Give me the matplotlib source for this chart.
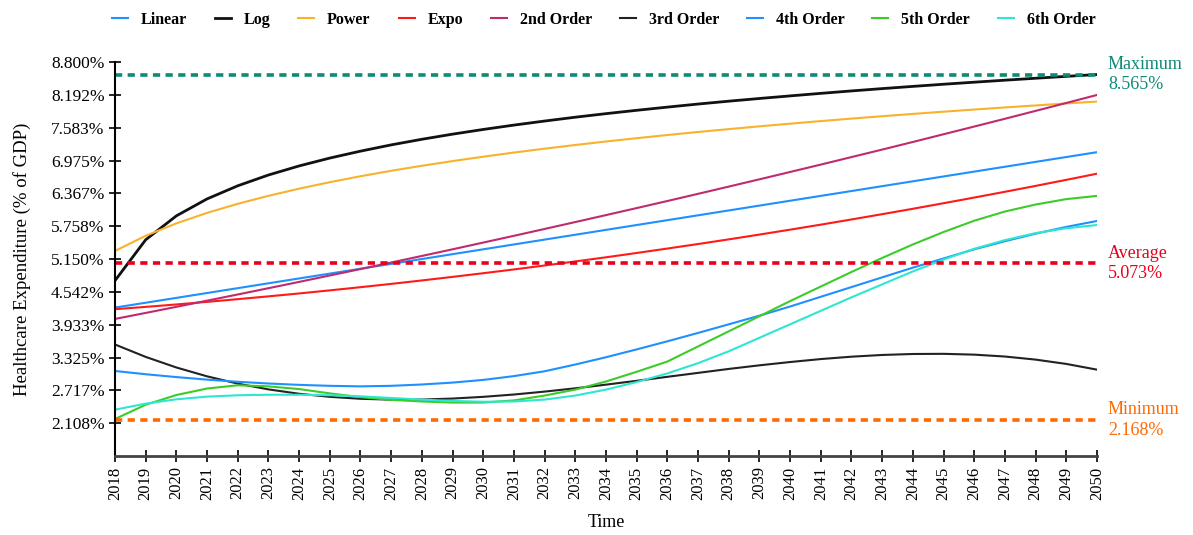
import matplotlib
matplotlib.use("Agg")
import matplotlib.pyplot as plt

# years on the x axis
years = list(range(2018, 2051))

# healthcare expenditure (% of GDP), one value per year
linear = [4.25, 4.34, 4.43, 4.52, 4.61, 4.70, 4.79, 4.88, 4.97, 5.06, 5.15,
          5.24, 5.33, 5.42, 5.51, 5.60, 5.69, 5.78, 5.87, 5.96, 6.05, 6.14,
          6.23, 6.32, 6.41, 6.50, 6.59, 6.68, 6.77, 6.86, 6.95, 7.04, 7.13]
log = [4.750, 5.507, 5.950, 6.264, 6.507, 6.707, 6.875, 7.021, 7.149, 7.265,
       7.369, 7.464, 7.551, 7.632, 7.707, 7.778, 7.844, 7.906, 7.965, 8.022,
       8.075, 8.125, 8.173, 8.220, 8.265, 8.308, 8.349, 8.389, 8.427, 8.464,
       8.500, 8.535, 8.569]
power = [5.300, 5.581, 5.811, 6.005, 6.173, 6.321, 6.454, 6.574, 6.684, 6.785,
         6.878, 6.965, 7.046, 7.123, 7.195, 7.263, 7.328, 7.389, 7.448, 7.504,
         7.557, 7.609, 7.658, 7.706, 7.752, 7.796, 7.839, 7.880, 7.920, 7.959,
         7.996, 8.033, 8.068]
expo = [4.220, 4.263, 4.308, 4.356, 4.406, 4.458, 4.512, 4.569, 4.628, 4.689,
        4.753, 4.819, 4.887, 4.957, 5.030, 5.105, 5.182, 5.262, 5.344, 5.428,
        5.514, 5.603, 5.694, 5.787, 5.883, 5.981, 6.081, 6.184, 6.289, 6.396,
        6.505, 6.617, 6.731]
order2 = [4.040, 4.151, 4.264, 4.378, 4.493, 4.609, 4.726, 4.845, 4.964, 5.085,
          5.207, 5.330, 5.455, 5.580, 5.707, 5.835, 5.964, 6.094, 6.225, 6.358,
          6.492, 6.627, 6.763, 6.900, 7.039, 7.178, 7.319, 7.462, 7.605, 7.749,
          7.895, 8.042, 8.190]
order3 = [3.566, 3.336, 3.140, 2.976, 2.841, 2.734, 2.653, 2.596, 2.560, 2.544,
          2.546, 2.564, 2.596, 2.639, 2.693, 2.754, 2.822, 2.893, 2.967, 3.040,
          3.113, 3.180, 3.241, 3.296, 3.340, 3.372, 3.390, 3.393, 3.378, 3.343,
          3.286, 3.206, 3.100]
order4 = [3.075, 3.015, 2.962, 2.915, 2.875, 2.843, 2.818, 2.800, 2.790, 2.800,
          2.825, 2.860, 2.910, 2.980, 3.070, 3.195, 3.330, 3.475, 3.625, 3.780,
          3.940, 4.100, 4.270, 4.450, 4.630, 4.810, 4.990, 5.160, 5.330, 5.480,
          5.620, 5.745, 5.855]
order5 = [2.185, 2.450, 2.630, 2.750, 2.810, 2.790, 2.740, 2.660, 2.590, 2.540,
          2.510, 2.490, 2.490, 2.530, 2.620, 2.730, 2.880, 3.060, 3.250, 3.530,
          3.810, 4.090, 4.370, 4.640, 4.910, 5.170, 5.420, 5.650, 5.860, 6.030,
          6.160, 6.260, 6.320]
order6 = [2.358, 2.470, 2.550, 2.600, 2.625, 2.635, 2.635, 2.625, 2.605, 2.575,
          2.545, 2.520, 2.505, 2.510, 2.545, 2.620, 2.730, 2.870, 3.030, 3.220,
          3.440, 3.690, 3.940, 4.190, 4.440, 4.680, 4.920, 5.140, 5.340, 5.500,
          5.630, 5.720, 5.780]

series_names = ["Linear", "Log", "Power", "Expo", "2nd Order",
                "3rd Order", "4th Order", "5th Order", "6th Order"]
series_colors = ["#1e90ff", "#111111", "#f8b22c", "#ff1a1a", "#c02a6e",
                 "#222222", "#1e90ff", "#3ccc2a", "#2ee6d2"]

# reference lines
ref_names = ["Maximum", "Average", "Minimum"]
ref_values = [8.565, 5.073, 2.168]
ref_colors = ["#0e8a76", "#e8001c", "#ff6a00"]

y_ticks = [2.108, 2.717, 3.325, 3.933, 4.542, 5.150,
           5.758, 6.367, 6.975, 7.583, 8.192, 8.800]

plt.rcParams["font.family"] = ["Liberation Serif", "DejaVu Serif"]

fig = plt.figure(figsize=(11.93, 5.35), dpi=100)
ax = fig.add_axes([0.0964, 0.1477, 0.8231, 0.7363])

all_series = [linear, log, power, expo, order2, order3, order4, order5, order6]
for vals, name, col in zip(all_series, series_names, series_colors):
    lw = 2.0 if name == "Log" else 1.5
    ax.plot(years, vals, color=col, lw=lw, label=name)

for name, val, col in zip(ref_names, ref_values, ref_colors):
    ax.plot([years[0], years[-1]], [val, val], color=col, lw=2.6,
            linestyle=(0, (2.0, 1.5)))
    ax.text(years[-1] + 0.36, val, "%s\n%.3f%%" % (name, val), color=col,
            fontsize=13, ha="left", va="center", linespacing=1.25,
            clip_on=False)

ax.set_xlim(2018, 2050)
ax.set_ylim(1.5, 8.8)
ax.set_xticks(years)
ax.set_xticklabels([str(y) for y in years], rotation=90, fontsize=12)
ax.set_yticks(y_ticks)
ax.set_yticklabels(["%.3f%%" % v for v in y_ticks], fontsize=12.5)
ax.tick_params(axis="both", direction="inout", length=8, width=1.2)

for s in ["top", "right"]:
    ax.spines[s].set_visible(False)
ax.spines["left"].set_linewidth(1.5)
ax.spines["bottom"].set_linewidth(2.0)
ax.spines["bottom"].set_color("#444444")

ax.set_xlabel("Time", fontsize=13, labelpad=10)
ax.set_ylabel("Healthcare Expenditure (% of GDP)", fontsize=13.5, labelpad=14)

fig.legend(loc="upper center", bbox_to_anchor=(0.506, 1.005), ncol=9,
           frameon=False, handlelength=1.0, columnspacing=1.75,
           handletextpad=0.8, prop={"weight": "bold", "size": 11.5})

fig.savefig("out.png", dpi=100)
